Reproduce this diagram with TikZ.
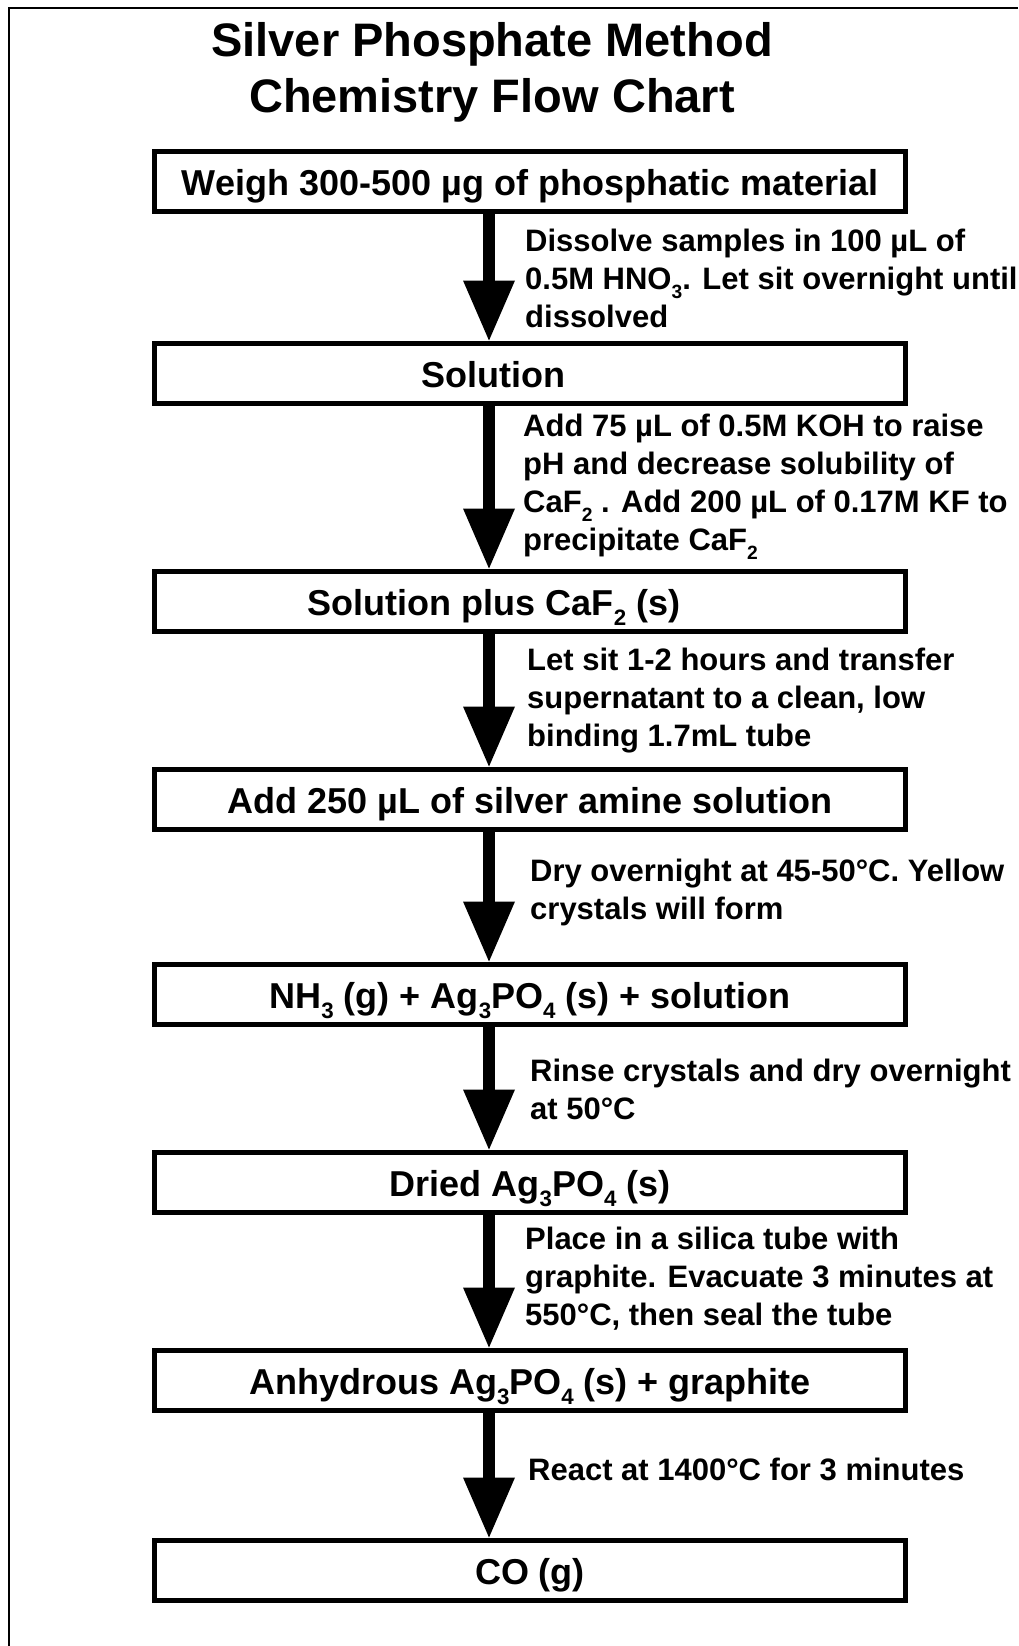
\documentclass[tikz,border=0pt]{standalone}
\usepackage{fontspec}
\setmainfont{Liberation Sans}
\usetikzlibrary{arrows.meta}
\newcommand\sbs[1]{\raisebox{-0.3em}{\scalebox{0.62}{#1}}}
\begin{document}
\begin{tikzpicture}[x=1pt,y=-1pt,
 box/.style={draw, line width=5pt, minimum width=751pt, minimum height=60pt, inner sep=0pt,
   text height=32pt, text depth=4pt,
   font=\fontsize{36}{40}\selectfont\bfseries},
 flow/.style={line width=12pt, -{Triangle[width=52pt,length=60pt,line width=0pt]}},
 note/.style={anchor=west, align=left, inner sep=0pt, font=\fontsize{31}{38}\selectfont\bfseries},
 heading/.style={align=center, inner sep=0pt, font=\fontsize{47}{56}\selectfont\bfseries}]
\useasboundingbox (0,0) rectangle (1018,1646);
\clip (0,0) rectangle (1018,1646);
\fill[white] (0,0) rectangle (1018,1646);
\draw[line width=2pt] (8.5,1646) -- (8.5,8.5) -- (1018,8.5);

\node[heading] (title) at (492,72) {Silver Phosphate Method\\Chemistry Flow Chart};

\node[box] (b1) at (530,181.5) {Weigh 300-500 µg of phosphatic material};
\node[box] (b2) at (530,373) {Solution\hspace*{74pt}};
\node[box] (b3) at (530,601) {Solution plus CaF\sbs{2} (s)\hspace*{72pt}};
\node[box] (b4) at (530,799) {Add 250 µL of silver amine solution};
\node[box] (b5) at (530,994) {NH\sbs{3} (g) + Ag\sbs{3}PO\sbs{4} (s) + solution};
\node[box] (b6) at (530,1182) {Dried Ag\sbs{3}PO\sbs{4} (s)};
\node[box] (b7) at (530,1380) {Anhydrous Ag\sbs{3}PO\sbs{4} (s) + graphite};
\node[box] (b8) at (530,1570) {CO (g)};

\coordinate (ax) at (489,0);
\draw[flow] (b1.south -| ax) -- (b2.north -| ax);
\draw[flow] (b2.south -| ax) -- (b3.north -| ax);
\draw[flow] (b3.south -| ax) -- (b4.north -| ax);
\draw[flow] (b4.south -| ax) -- (b5.north -| ax);
\draw[flow] (b5.south -| ax) -- (b6.north -| ax);
\draw[flow] (b6.south -| ax) -- (b7.north -| ax);
\draw[flow] (b7.south -| ax) -- (b8.north -| ax);

\node[note] (n1) at (525,278) {Dissolve samples in 100 µL of\\0.5M HNO\sbs{3}. Let sit overnight until\\dissolved};
\node[note] (n2) at (523,487) {Add 75 µL of 0.5M KOH to raise\\pH and decrease solubility of\\CaF\sbs{2} . Add 200 µL of 0.17M KF to\\precipitate CaF\sbs{2}};
\node[note] (n3) at (527,701) {Let sit 1-2 hours and transfer\\supernatant to a clean, low\\binding 1.7mL tube};
\node[note] (n4) at (530,892) {Dry overnight at 45-50°C. Yellow\\crystals will form};
\node[note] (n5) at (530,1089) {Rinse crystals and dry overnight\\at 50°C};
\node[note] (n6) at (525,1279) {Place in a silica tube with\\graphite. Evacuate 3 minutes at\\550°C, then seal the tube};
\node[note] (n7) at (528,1469) {React at 1400°C for 3 minutes};
\end{tikzpicture}
\end{document}
